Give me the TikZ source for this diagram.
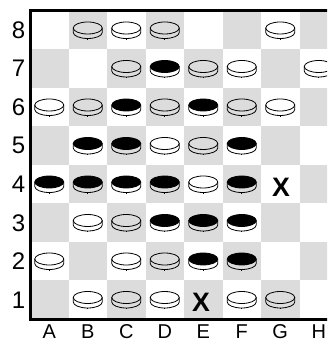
\documentclass[tikz,border=0pt]{standalone}
\usepackage{fontspec}
\setmainfont{Liberation Sans}
\definecolor{sq}{RGB}{220,220,220}
\tikzset{
  pc/.style={line width=0.6pt, draw=black},
  wdisc/.pic={
    \draw[pc] (-14.5,2.25) -- (-14.5,-2.25) arc[start angle=180,end angle=360,x radius=14.5,y radius=6] -- (14.5,2.25);
    \draw[pc] (0,2.25) ellipse[x radius=14.5,y radius=6];
    \draw[pc] (0,-8.25) -- (0,-9.75);
  },
  bdisc/.pic={
    \draw[pc] (-14.5,2.25) -- (-14.5,-2.25) arc[start angle=180,end angle=360,x radius=14.5,y radius=6] -- (14.5,2.25);
    \filldraw[pc,fill=black] (0,2.25) ellipse[x radius=14.5,y radius=6];
    \draw[pc] (0,-8.25) -- (0,-9.75);
  },
  numlbl/.style={font=\fontsize{18}{18}\selectfont, inner sep=0pt},
  letlbl/.style={font=\fontsize{15}{15}\selectfont, inner sep=0pt},
  xmark/.style={font=\bfseries\fontsize{20}{20}\selectfont, inner sep=0pt},
  border/.style={line width=2.25pt, line cap=rect}
}
\begin{document}
\begin{tikzpicture}[x=0.75pt,y=0.75pt]
\useasboundingbox (0,0) rectangle (327,341);
\clip (0,0) rectangle (327,341);
% squares
\foreach \c in {1,...,8} {
  \foreach \r in {1,...,8} {
    \pgfmathtruncatemacro\p{mod(\c+\r,2)}
    \ifnum\p=0
      \fill[sq] (30+38.5*\c-38.5, 22+38.5*\r-38.5) rectangle ++(38.5,38.5);
    \fi
  }
}
% borders
\draw[border] (30,21) -- (30,330.5);
\draw[border] (30,330.5) -- (340,330.5);
\draw[border] (30,21) -- (340,21);
% labels
\foreach \r in {1,...,8} {
  \node[numlbl] (r\r) at (18.5, 22+38.5*\r-19.25) {\r};
}
\foreach \c/\l in {1/A,2/B,3/C,4/D,5/E,6/F,7/G,8/H} {
  \node[letlbl] (c\l) at (30+38.5*\c-19.25, 9.5) {\l};
}
% white discs
\foreach \c/\r in {2/8,3/8,4/8,7/8, 3/7,5/7,6/7,8/7, 1/6,2/6,4/6,6/6,7/6, 4/5,5/5, 5/4, 2/3,3/3, 1/2,3/2,4/2, 2/1,3/1,4/1,6/1,7/1} {
  \pic at (30+38.5*\c-19.25, 22+38.5*\r-19.25) {wdisc};
}
% black discs
\foreach \c/\r in {4/7, 3/6,5/6, 2/5,3/5,6/5, 1/4,2/4,3/4,4/4,6/4, 4/3,5/3,6/3, 5/2,6/2} {
  \pic at (30+38.5*\c-19.25, 22+38.5*\r-19.25) {bdisc};
}
% X marks
\node[xmark] (xg4) at (281, 341-187.5) {X};
\node[xmark] (xe1) at (201, 341-302.5) {X};
\end{tikzpicture}
\end{document}
